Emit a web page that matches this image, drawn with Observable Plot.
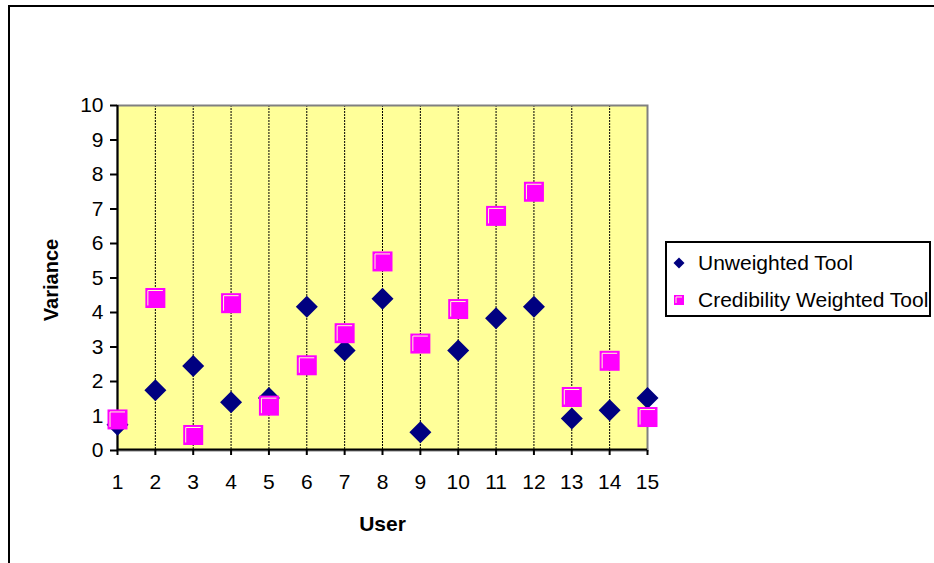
<!DOCTYPE html>
<html>
<head>
<meta charset="utf-8">
<script src="https://cdn.jsdelivr.net/npm/d3@7"></script>
<script src="https://cdn.jsdelivr.net/npm/@observablehq/plot@0.6"></script>
<style>
  html, body { margin: 0; padding: 0; background: #fff; overflow: hidden; }
  #wrap { position: relative; width: 934px; height: 563px; font-family: "Liberation Sans", Arial, sans-serif; }
  #outer { position: absolute; left: 8px; top: 5px; width: 1000px; height: 700px; border: 2px solid #000; box-sizing: border-box; }
  #chart { position: absolute; left: 0; top: 0; }
  #legend { position: absolute; left: 665px; top: 241px; width: 266px; height: 76px; border: 2px solid #000; box-sizing: border-box; background: #fff; font-size: 21px; color: #000; }
  .item { position: absolute; left: 0; height: 24px; display: flex; align-items: center; white-space: nowrap; }
  .item svg { margin-left: 6px; margin-right: 13px; }
</style>
</head>
<body>
<div id="wrap">
  <div id="outer"></div>
  <div id="chart"></div>
  <div id="legend"></div>
</div>
<script>
// Variance per user for the two scoring tools
const users = [1, 2, 3, 4, 5, 6, 7, 8, 9, 10, 11, 12, 13, 14, 15];
const unweighted = [0.75, 1.75, 2.45, 1.4, 1.52, 4.17, 2.9, 4.4, 0.53, 2.9, 3.83, 4.17, 0.93, 1.17, 1.52];
const credibility = [0.9, 4.42, 0.45, 4.27, 1.3, 2.47, 3.4, 5.48, 3.1, 4.1, 6.8, 7.5, 1.55, 2.6, 0.97];
const seriesNames = ["Unweighted Tool", "Credibility Weighted Tool"];
const xTicks = users;
const yTicks = [0, 1, 2, 3, 4, 5, 6, 7, 8, 9, 10];

const rows = users.flatMap((u, i) => [
  {user: u, value: unweighted[i], series: seriesNames[0]},
  {user: u, value: credibility[i], series: seriesNames[1]}
]);

// Marker shapes: a navy diamond and a magenta square with a light bevel line
const diamond = {draw(ctx) { ctx.moveTo(0, -11); ctx.lineTo(11, 0); ctx.lineTo(0, 11); ctx.lineTo(-11, 0); ctx.closePath(); }};
const square = {draw(ctx) { ctx.moveTo(-10, -10); ctx.lineTo(10, -10); ctx.lineTo(10, 10); ctx.lineTo(-10, 10); ctx.closePath(); }};
const bevel = {draw(ctx) { ctx.moveTo(-7.5, 7.5); ctx.lineTo(-7.5, -7.5); ctx.lineTo(7.5, -7.5); }};

const chart = Plot.plot({
  width: 934,
  height: 563,
  marginLeft: 117,
  marginRight: 287,
  marginTop: 105,
  marginBottom: 113,
  style: {fontFamily: "'Liberation Sans', Arial, sans-serif", fontSize: "21px", color: "#000", background: "transparent"},
  x: {domain: [1, 15]},
  y: {domain: [0, 10]},
  marks: [
    Plot.frame({fill: "#ffff99", stroke: null}),
    Plot.ruleX(xTicks.slice(1, -1), {stroke: "#000", strokeWidth: 1, strokeDasharray: "2,1"}),
    Plot.frame({stroke: "#808080", strokeWidth: 2}),
    Plot.ruleX([1], {stroke: "#000", strokeWidth: 2}),
    Plot.ruleY([0], {stroke: "#000", strokeWidth: 2, dy: -1}),
    Plot.axisX({ticks: xTicks, tickFormat: d => String(d), tickSize: 5, tickPadding: 19, label: null, stroke: "#000", strokeWidth: 2, fontSize: 21}),
    Plot.axisY({ticks: yTicks, tickFormat: d => String(d), tickSize: 7, tickPadding: 7, label: null, stroke: "#000", strokeWidth: 2, fontSize: 21}),
    Plot.dot(rows.filter(d => d.series === seriesNames[0]), {x: "user", y: "value", symbol: diamond, fill: "#000080", stroke: null}),
    Plot.dot(rows.filter(d => d.series === seriesNames[1]), {x: "user", y: "value", symbol: square, fill: "#ff00ff", stroke: null}),
    Plot.dot(rows.filter(d => d.series === seriesNames[1]), {x: "user", y: "value", symbol: bevel, fill: "none", stroke: "#ffffcc", strokeWidth: 1}),
    Plot.text(["User"], {frameAnchor: "bottom", lineAnchor: "middle", dy: 74, fontWeight: "bold", fontSize: 21}),
    Plot.text(["Variance"], {frameAnchor: "left", textAnchor: "middle", lineAnchor: "middle", dx: -66, dy: 2, rotate: -90, fontWeight: "bold", fontSize: 20})
  ]
});
document.getElementById("chart").append(chart);

// Legend
const legend = d3.select("#legend");
const swatches = [
  `<svg width="12" height="12" viewBox="-6 -6 12 12"><path d="M0,-5.5L5.5,0L0,5.5L-5.5,0Z" fill="#000080"/></svg>`,
  `<svg width="12" height="12" viewBox="-6 -6 12 12"><rect x="-5" y="-5" width="10" height="10" fill="#ff00ff"/><path d="M-3,3V-3H3" fill="none" stroke="#ffffcc" stroke-width="1"/></svg>`
];
seriesNames.forEach((name, i) => {
  legend.append("div").attr("class", "item")
    .style("top", (i === 0 ? 8 : 45) + "px")
    .html(swatches[i] + `<span>${name}</span>`);
});
</script>
</body>
</html>
